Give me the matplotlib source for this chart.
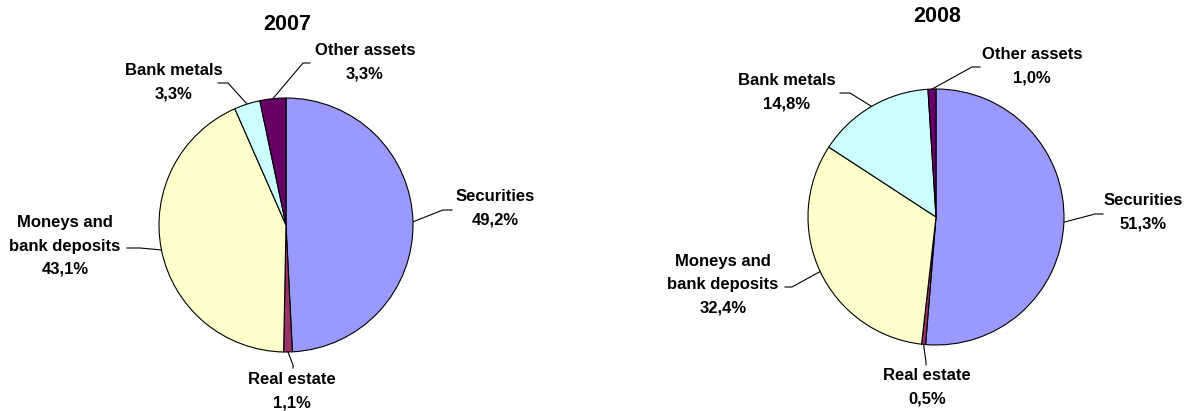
import matplotlib
matplotlib.use("Agg")
import matplotlib.pyplot as plt
import numpy as np

plt.rcParams["font.family"] = ["Liberation Sans", "DejaVu Sans"]
plt.rcParams["font.weight"] = "bold"

categories = ["Securities", "Real estate", "Moneys and\nbank deposits",
              "Bank metals", "Other assets"]
colors = ["#9999FF", "#993366", "#FFFFCC", "#CCFFFF", "#660066"]

years = ["2007", "2008"]
shares_2007 = [49.2, 1.1, 43.1, 3.3, 3.3]
shares_2008 = [51.3, 0.5, 32.4, 14.8, 1.0]

W, H = 1188, 411

# layout in pixels (y measured from the top)
pies = [
    dict(center=(286, 225), radius=127, title=(287, 25),
         labels=[(495, 208), (292, 391), (65, 246), (174, 82), (365, 62)],
         knees=[((443, 210), (452, 210)), ((293, 365), (293, 368)),
                ((140, 248), (127, 248)), ((228, 83), (218, 83)),
                ((303, 63), (310, 63))]),
    dict(center=(936, 217), radius=128, title=(937, 17),
         labels=[(1143, 212), (927, 387), (723, 285), (787, 92), (1032, 66)],
         knees=[((1095, 214), (1103, 214)), ((926, 362), (926, 365)),
                ((792, 287), (785, 287)), ((850, 93), (840, 93)),
                ((972, 67), (980, 67))]),
]


def fmt(v):
    return f"{v:.1f}%".replace(".", ",")


fig = plt.figure(figsize=(W / 100, H / 100), dpi=100)
ax = fig.add_axes([0, 0, 1, 1])

for year, shares, lay in zip(years, [shares_2007, shares_2008], pies):
    cx, cy = lay["center"]
    r = lay["radius"]
    wedges, _ = ax.pie(shares, colors=colors, startangle=90, counterclock=False,
                       center=(cx, H - cy), radius=r,
                       wedgeprops=dict(edgecolor="black", linewidth=0.8),
                       frame=True)
    ax.text(lay["title"][0], H - lay["title"][1], year, ha="center", va="center",
            fontsize=15.5, fontweight="bold")
    for w, name, v, (lx, ly), (k1, k2) in zip(wedges, categories, shares,
                                                lay["labels"], lay["knees"]):
        # leader line from the middle of the slice edge to the label
        mid = np.deg2rad((w.theta1 + w.theta2) / 2)
        sx = cx + r * np.cos(mid)
        sy = (H - cy) + r * np.sin(mid)
        ax.plot([sx, k1[0], k2[0]], [sy, H - k1[1], H - k2[1]],
                color="black", lw=0.8, zorder=0.5)
        ax.text(lx, H - ly, f"{name}\n{fmt(v)}", ha="center", va="center",
                fontsize=12, fontweight="bold", linespacing=1.7)

ax.set_xlim(0, W)
ax.set_ylim(0, H)
ax.set_aspect("equal")
ax.axis("off")
fig.savefig("out.png", dpi=100)
